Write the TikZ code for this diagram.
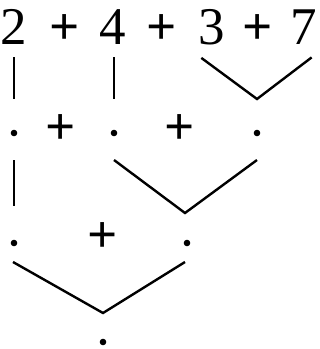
\documentclass[tikz,border=0pt]{standalone}
\usepackage{fontspec}
\setmainfont{Liberation Serif}
\usetikzlibrary{calc}
\tikzset{
  sym/.style={anchor=base,inner sep=0pt,font=\fontsize{26.5}{30}\selectfont},
  op/.style={sym,font=\fontsize{26.5}{30}\selectfont\bfseries},
  dot/.style={circle,fill,inner sep=0pt,minimum size=3.3pt},
  link/.style={line width=1.2pt},
}
\begin{document}
\begin{tikzpicture}[x=0.5pt,y=-0.5pt]
\useasboundingbox (0,0) rectangle (320,349);
% --- top row ---
\node[sym] (n2) at (14,44) {2};
\node[op] (p1) at (65,44) {+};
\node[sym] (n4) at (113,44) {4};
\node[op] (p2) at (162,44) {+};
\node[sym] (n3) at (212,44) {3};
\node[op] (p3) at (258,44) {+};
\node[sym] (n7) at (304,44) {7};
% --- second row ---
\node[dot] (a1) at (14,133) {};
\node[op] (q1) at (61,144) {+};
\node[dot] (a2) at (114,133) {};
\node[op] (q2) at (180,144) {+};
\node[dot] (a3) at (257,133) {};
% --- third row ---
\node[dot] (b1) at (14,243) {};
\node[op] (r1) at (103,252) {+};
\node[dot] (b2) at (187,243) {};
% --- result ---
\node[dot] (c1) at (103,342) {};
% joins
\coordinate (j1) at ($(a3)+(0,-34)$);
\coordinate (j2) at ($(b2)+(-2,-30)$);
\coordinate (j3) at ($(c1)+(0,-29)$);
\draw[link] ($(n2.south)+(0,13)$) -- ($(a1)+(0,-34)$);
\draw[link] ($(n4.south)+(1,13)$) -- ($(a2)+(0,-34)$);
\draw[link] ($(n3.south west)+(3,13)$) -- (j1) -- ($(n7.south east)+(-6,13)$);
\draw[link] ($(a1)+(0,27)$) -- ($(b1)+(0,-37)$);
\draw[link] ($(a2)+(0,27)$) -- (j2) -- ($(a3)+(0,27)$);
\draw[link] ($(b1)+(-1,19)$) -- (j3) -- ($(b2)+(-2,19)$);
\end{tikzpicture}
\end{document}
